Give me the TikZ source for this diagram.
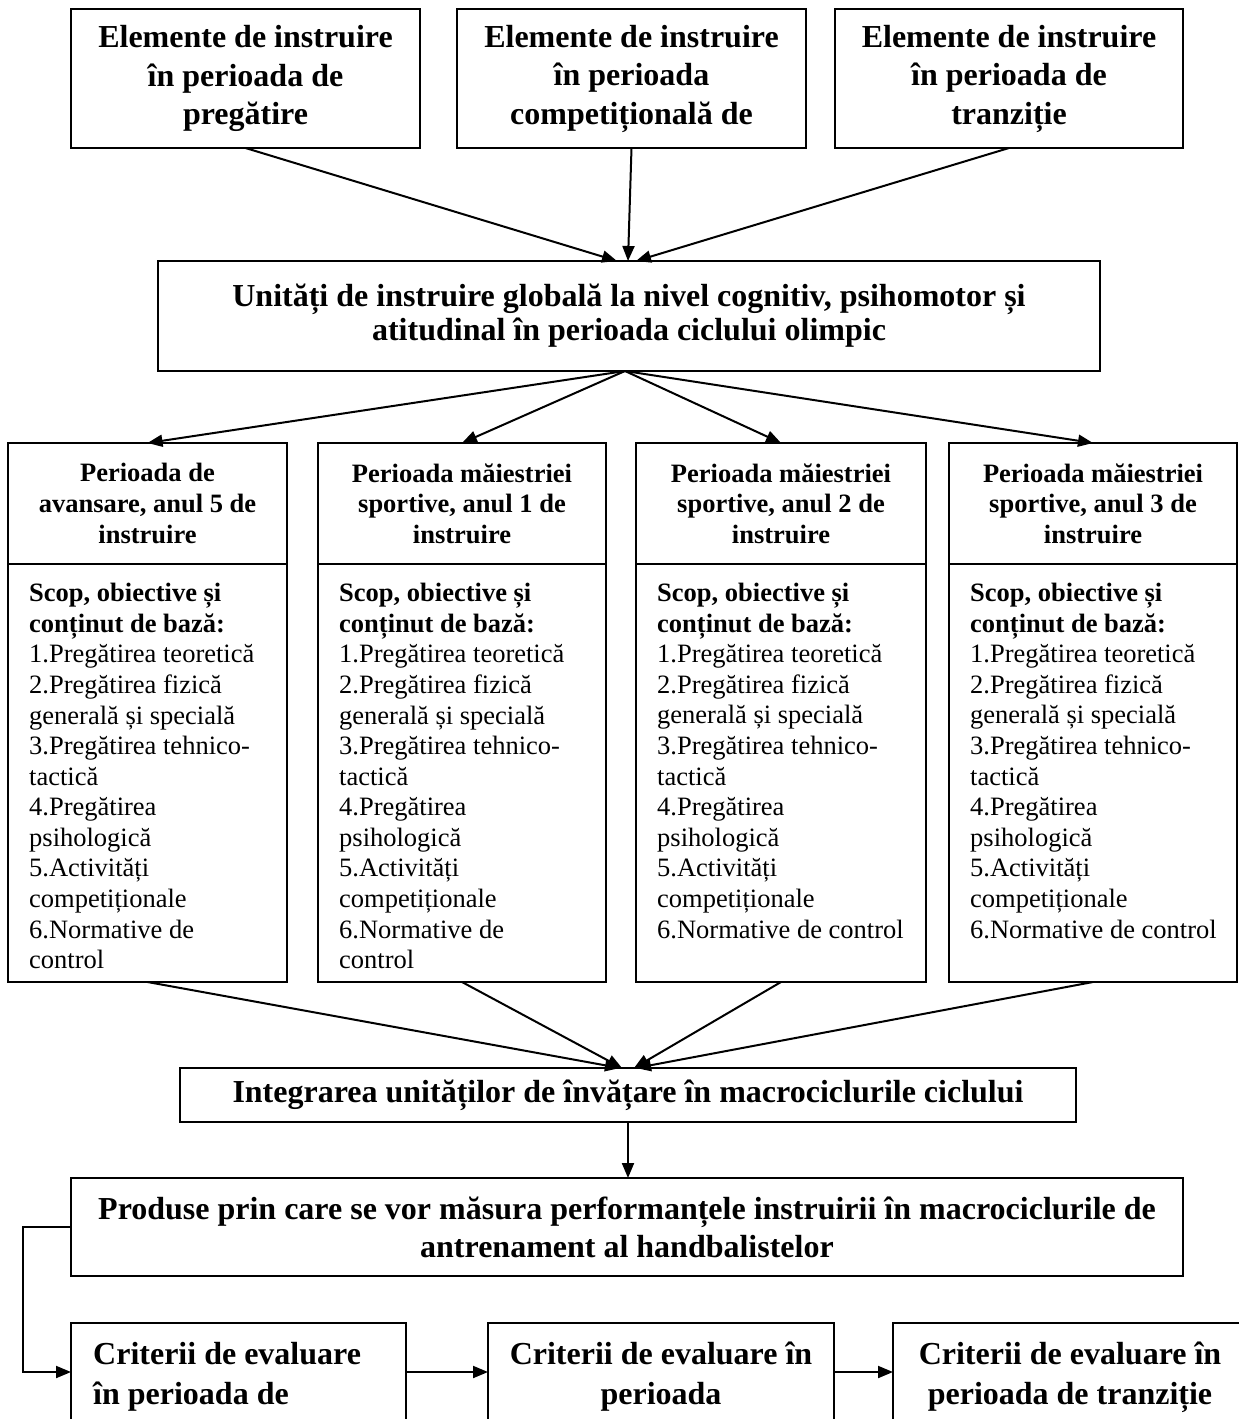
\documentclass[tikz,border=0pt]{standalone}
\usepackage{fontspec}
\setmainfont{Liberation Serif}
\usetikzlibrary{arrows.meta}
\tikzset{
  frame/.style={draw, line width=1.6pt, inner sep=0pt, outer sep=0pt},
  big/.style={font=\fontsize{32}{38.5}\selectfont\bfseries, align=center},
  hdr/.style={font=\fontsize{26.5}{30.6}\selectfont\bfseries, align=center},
  bodytxt/.style={font=\fontsize{26.5}{30.6}\selectfont, align=left, inner sep=0pt, anchor=north west},
  crit/.style={font=\fontsize{32}{40}\selectfont\bfseries, inner sep=0pt},
  arr/.style={line width=2pt, -{Triangle[length=15pt,width=12pt]}},
}
\begin{document}
\begin{tikzpicture}[x=1pt,y=-1pt]
\useasboundingbox (0,0) rectangle (1239,1419);
\clip (0,0) rectangle (1239,1419);

% top boxes
\node[frame, big, minimum width=349pt, minimum height=139pt] (ea) at (245.5,78.5) {Elemente de instruire\\în perioada de\\pregătire};
\node[frame, big, minimum width=349pt, minimum height=139pt] (eb) at (631.5,78.5) {Elemente de instruire\\în perioada\\competițională de};
\node[frame, big, minimum width=348pt, minimum height=139pt] (ec) at (1009,78.5) {Elemente de instruire\\în perioada de\\tranziție};

% middle box
\node[frame, font=\fontsize{32}{34}\selectfont\bfseries, align=center, minimum width=942pt, minimum height=110pt] (mid) at (629,316) {Unități de instruire globală la nivel cognitiv, psihomotor și\\atitudinal în perioada ciclului olimpic};

\draw[arr] (ea.south) -- ([xshift=-12pt]mid.north);
\draw[arr] (eb.south) -- ([xshift=-1pt]mid.north);
\draw[arr] (ec.south) -- ([xshift=7pt]mid.north);

% four period boxes
\node[frame, hdr, minimum width=279pt, minimum height=121pt] (h1) at (147.5,503.5) {Perioada de\\avansare, anul 5 de\\instruire};
\node[frame, hdr, minimum width=288pt, minimum height=121pt] (h2) at (462,503.5) {Perioada măiestriei\\sportive, anul 1 de\\instruire};
\node[frame, hdr, minimum width=290pt, minimum height=121pt] (h3) at (781,503.5) {Perioada măiestriei\\sportive, anul 2 de\\instruire};
\node[frame, hdr, minimum width=288pt, minimum height=121pt] (h4) at (1093,503.5) {Perioada măiestriei\\sportive, anul 3 de\\instruire};

\node[frame, minimum width=279pt, minimum height=418pt] (b1) at (147.5,773) {};
\node[frame, minimum width=288pt, minimum height=418pt] (b2) at (462,773) {};
\node[frame, minimum width=290pt, minimum height=418pt] (b3) at (781,773) {};
\node[frame, minimum width=288pt, minimum height=418pt] (b4) at (1093,773) {};

\node[bodytxt] (t1) at ([xshift=21pt,yshift=-19pt]b1.north west) {\textbf{Scop, obiective și}\\\textbf{conținut de bază:}\\1.Pregătirea teoretică\\2.Pregătirea fizică\\generală și specială\\3.Pregătirea tehnico-\\tactică\\4.Pregătirea\\psihologică\\5.Activități\\competiționale\\6.Normative de\\control};
\node[bodytxt] (t2) at ([xshift=21pt,yshift=-19pt]b2.north west) {\textbf{Scop, obiective și}\\\textbf{conținut de bază:}\\1.Pregătirea teoretică\\2.Pregătirea fizică\\generală și specială\\3.Pregătirea tehnico-\\tactică\\4.Pregătirea\\psihologică\\5.Activități\\competiționale\\6.Normative de\\control};
\node[bodytxt] (t3) at ([xshift=21pt,yshift=-19pt]b3.north west) {\textbf{Scop, obiective și}\\\textbf{conținut de bază:}\\1.Pregătirea teoretică\\2.Pregătirea fizică\\generală și specială\\3.Pregătirea tehnico-\\tactică\\4.Pregătirea\\psihologică\\5.Activități\\competiționale\\6.Normative de control};
\node[bodytxt] (t4) at ([xshift=21pt,yshift=-19pt]b4.north west) {\textbf{Scop, obiective și}\\\textbf{conținut de bază:}\\1.Pregătirea teoretică\\2.Pregătirea fizică\\generală și specială\\3.Pregătirea tehnico-\\tactică\\4.Pregătirea\\psihologică\\5.Activități\\competiționale\\6.Normative de control};

\draw[arr] ([xshift=-4pt]mid.south) -- (h1.north);
\draw[arr] ([xshift=-4pt]mid.south) -- (h2.north);
\draw[arr] ([xshift=-4pt]mid.south) -- (h3.north);
\draw[arr] ([xshift=-4pt]mid.south) -- (h4.north);

% integration box
\node[frame, font=\fontsize{32}{37}\selectfont\bfseries, minimum width=896pt, minimum height=54pt] (integ) at (628,1095) {Integrarea unităților de învățare în macrociclurile ciclului};

\draw[arr] (b1.south) -- ([xshift=-8pt]integ.north);
\draw[arr] (b2.south) -- ([xshift=-6pt]integ.north);
\draw[arr] (b3.south) -- ([xshift=6pt]integ.north);
\draw[arr] (b4.south) -- ([xshift=8pt]integ.north);

% products box
\node[frame, font=\fontsize{32}{38}\selectfont\bfseries, align=center, minimum width=1112pt, minimum height=98pt] (prod) at (627,1227) {Produse prin care se vor măsura performanțele instruirii în macrociclurile de\\antrenament al handbalistelor};

\draw[arr] (integ.south) -- (integ.south |- prod.north);

% criteria boxes
\node[frame, minimum width=335pt, minimum height=120pt] (c1) at (238.5,1383) {};
\node[frame, minimum width=346pt, minimum height=120pt] (c2) at (661,1383) {};
\node[frame, minimum width=354pt, minimum height=120pt] (c3) at (1070,1383) {};

\node[crit, align=left, anchor=west] (c1t) at (93,1377) {Criterii de evaluare\\în perioada de};
\node[crit, align=center] (c2t) at (661,1377) {Criterii de evaluare în\\perioada};
\node[crit, align=center] (c3t) at (1070,1377) {Criterii de evaluare în\\perioada de tranziție};

\coordinate (lc) at (23,1372);
\draw[arr] (prod.west) -| (lc) -- ([yshift=11pt]c1.west);
\draw[arr] ([yshift=11pt]c1.east) -- ([yshift=11pt]c2.west);
\draw[arr] ([yshift=11pt]c2.east) -- ([yshift=11pt]c3.west);
\end{tikzpicture}
\end{document}
